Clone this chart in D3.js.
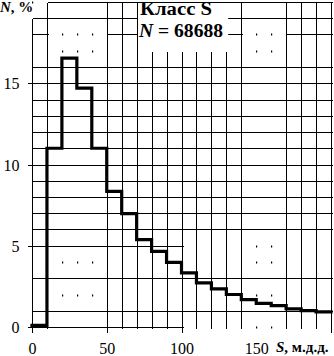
<!DOCTYPE html>
<html>
<head>
<meta charset="utf-8">
<style>
    html, body { margin: 0; padding: 0; background: #fff; }
    svg { display: block; }
    text { font-family: 'Liberation Serif', 'Times New Roman', Times, 'DejaVu Serif', serif; fill: #000; }
    .grid line { stroke: #000; stroke-width: 1; shape-rendering: crispEdges; }
    .axis text { font-size: 16px; }
    .axis line { stroke: #000; shape-rendering: crispEdges; }
</style>
</head>
<body>
<svg id="chart" width="334" height="356"></svg>
<script src="https://d3js.org/d3.v7.min.js"></script>
<script>
// histogram, bins of 10 m.д.д.
var binStarts = [0, 10, 20, 30, 40, 50, 60, 70, 80, 90, 100, 110, 120, 130, 140, 150, 160, 170, 180, 190];
var binValues = [0.1, 11.0, 16.55, 14.7, 11.0, 8.35, 6.98, 5.38, 4.66, 3.98, 3.33, 2.72, 2.35, 2.0, 1.69, 1.46, 1.32, 1.12, 1.01, 0.93];
var binEnd = 200;

var yTicks = [0, 5, 10, 15];
var xTicks = [0, 50, 100, 150];
var xTickLabels = ["0", "50", "100", "150"];

var legendTitle = "Класс S";
var legendCount = "68688";

// grid of the scanned sheet: columns every 10, rows every 1, some only dotted
var gridCols = [0, 10, 20, 30, 40, 50, 60, 70, 80, 90, 100, 110, 120, 130, 140, 150, 160, 170, 180, 190, 200];
var gridRows = [0, 1, 2, 3, 4, 5, 6, 7, 8, 9, 10, 11, 12, 13, 14, 15, 16, 17, 18, 19, 20];
var colSpans = {0: [[0, 19]], 20: [], 30: [], 40: [], 150: [], 160: [],
                80: [[0, 17]], 90: [[0, 17]], 100: [[0, 17]], 110: [[0, 17]], 120: [[0, 17]], 130: [[0, 17]]};
var rowSpans = {20: [[10, 200]], 18: [[0, 10], [50, 140], [170, 200]], 17: [],
                5: [[0, 100]], 4: [], 2: [], 0: [[0, 100]]};

var svg = d3.select("#chart");
var x = d3.scaleLinear().domain([0, 200]).range([32, 331]);
var y = d3.scaleLinear().domain([0, 20]).range([327, 2]);

function px(v) { return Math.round(v) + 0.5; }
function spansOf(map, k) { return map[k] !== undefined ? map[k] : [[0, 20 * (map === rowSpans ? 10 : 1)]]; }
function inSpans(sp, v) { return sp.some(function(s) { return v >= s[0] && v <= s[1]; }); }

var grid = svg.append("g").attr("class", "grid");

gridRows.forEach(function(r) {
    spansOf(rowSpans, r).forEach(function(s) {
        grid.append("line")
            .attr("x1", px(x(s[0]))).attr("x2", px(x(s[1])) + 1)
            .attr("y1", px(y(r))).attr("y2", px(y(r)));
    });
});
gridCols.forEach(function(c) {
    spansOf(colSpans, c).forEach(function(s) {
        grid.append("line")
            .attr("x1", px(x(c))).attr("x2", px(x(c)))
            .attr("y1", px(y(s[1]))).attr("y2", px(y(s[0])) + 1);
    });
});

// dots where neither the row nor the column is drawn
var dots = [];
gridRows.forEach(function(r) {
    gridCols.forEach(function(c) {
        if (!inSpans(spansOf(rowSpans, r), c) && !inSpans(spansOf(colSpans, c), r)) dots.push([c, r]);
    });
});
svg.append("g").selectAll("rect").data(dots).enter().append("rect")
    .attr("x", function(d) { return Math.round(x(d[0])); })
    .attr("y", function(d) { return Math.round(y(d[1])) - 0.5; })
    .attr("width", 1.2).attr("height", 2).attr("fill", "#000");

// axes (ticks only)
var yAxis = svg.append("g").attr("class", "axis")
    .attr("transform", "translate(" + px(x(0)) + ",0)")
    .call(d3.axisLeft(y).tickValues(yTicks).tickSize(5).tickPadding(8));
yAxis.select(".domain").remove();
yAxis.attr("font-family", null).attr("font-size", null);
yAxis.selectAll("text").attr("dy", "0.35em");

var xAxis = svg.append("g").attr("class", "axis")
    .attr("transform", "translate(0," + px(y(0)) + ")")
    .call(d3.axisBottom(x).tickValues(xTicks).tickSize(5).tickPadding(10)
        .tickFormat(function(d, i) { return xTickLabels[i]; }));
xAxis.select(".domain").remove();
xAxis.attr("font-family", null).attr("font-size", null);
xAxis.selectAll(".tick line").filter(function(d) { return d === 150; }).remove();
svg.append("line").attr("class", "axis")
    .attr("x1", px(x(200))).attr("x2", px(x(200)))
    .attr("y1", px(y(0))).attr("y2", px(y(0)) + 5)
    .attr("stroke", "#000").attr("shape-rendering", "crispEdges");

// histogram step line
var stepData = binStarts.map(function(s, i) { return [s, binValues[i]]; });
stepData.push([binEnd, binValues[binValues.length - 1]]);
svg.append("path")
    .datum(stepData)
    .attr("fill", "none")
    .attr("stroke", "#000")
    .attr("stroke-width", 3.2)
    .attr("stroke-linejoin", "miter")
    .attr("stroke-linecap", "square")
    .attr("d", d3.line().curve(d3.curveStepAfter)
        .x(function(d) { return x(d[0]); })
        .y(function(d) { return y(d[1]); }));

// legend box over the grid
svg.append("rect")
    .attr("x", px(x(70)) + 0.5).attr("y", px(y(20)) + 0.5)
    .attr("width", x(131) - x(70) - 1).attr("height", y(17.1) - y(20))
    .attr("fill", "#fff");
svg.append("text")
    .attr("x", 140).attr("y", 14.5)
    .attr("font-size", 18).attr("font-weight", "bold")
    .attr("textLength", 72).attr("lengthAdjust", "spacingAndGlyphs")
    .text(legendTitle);
var cnt = svg.append("text")
    .attr("x", 139).attr("y", 37)
    .attr("font-size", 18).attr("font-weight", "bold")
    .attr("textLength", 84).attr("lengthAdjust", "spacingAndGlyphs");
cnt.append("tspan").attr("font-style", "italic").text("N");
cnt.append("tspan").text(" = " + legendCount);

// axis titles
var yt = svg.append("text").attr("x", 0).attr("y", 12)
    .attr("font-size", 15).attr("font-weight", "bold");
yt.append("tspan").attr("font-style", "italic").text("N");
yt.append("tspan").text(", %");

var xt = svg.append("text").attr("x", 276).attr("y", 352)
    .attr("font-size", 15).attr("font-weight", "bold");
xt.append("tspan").attr("font-style", "italic").text("S");
xt.append("tspan").text(", м.д.д.");
</script>
</body>
</html>
